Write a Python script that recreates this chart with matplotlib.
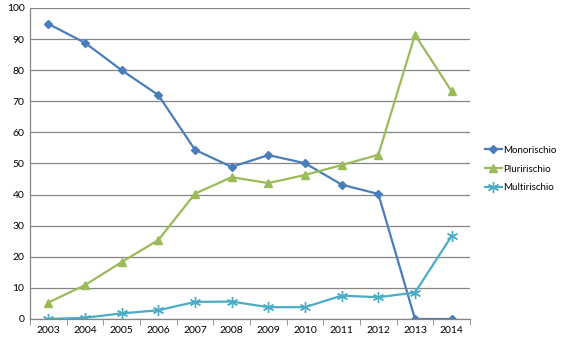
import matplotlib
matplotlib.use('Agg')
import matplotlib.pyplot as plt
import numpy as np

plt.rcParams['font.family'] = ['Lato', 'DejaVu Sans']

anni = ['2003', '2004', '2005', '2006', '2007', '2008', '2009', '2010', '2011', '2012', '2013', '2014']
monorischio = [94.9, 88.8, 80.0, 72.0, 54.4, 48.9, 52.7, 50.1, 43.2, 40.2, 0.0, 0.0]
pluririschio = [5.3, 10.9, 18.3, 25.4, 40.3, 45.6, 43.7, 46.3, 49.5, 52.8, 91.4, 73.2]
multirischio = [0.0, 0.4, 1.8, 2.8, 5.5, 5.6, 3.8, 3.8, 7.5, 7.0, 8.5, 26.7]

mono_color = '#4A7EBB'
pluri_color = '#9BBB59'
multi_color = '#4BACC6'
grid_color = '#868686'

x_pos = np.arange(len(anni))

fig = plt.figure(figsize=(5.67, 3.45), dpi=100)
ax = fig.add_axes([30/567, 1-319/345, 440/567, 311/345])

ax.plot(x_pos, monorischio, color=mono_color, lw=1.6, marker='D', markersize=4, label='Monorischio')
ax.plot(x_pos, pluririschio, color=pluri_color, lw=1.6, marker='^', markersize=5.5, label='Pluririschio')
ax.plot(x_pos, multirischio, color=multi_color, lw=1.6, marker=(6, 2, 0), markersize=8, mew=1.0, label='Multirischio')

ax.set_xlim(-0.5, len(anni) - 0.5)
ax.set_ylim(0, 100)
ax.set_yticks(np.arange(0, 101, 10))
ax.set_xticks(x_pos)
ax.set_xticklabels(anni)
# tick marks sit between the categories
ax.set_xticks(np.arange(-0.5, len(anni), 1), minor=True)
ax.tick_params(axis='x', which='major', length=0, labelsize=7.5, pad=5)
ax.tick_params(axis='x', which='minor', length=4, color=grid_color, direction='out')
ax.tick_params(axis='y', length=0, labelsize=7.5, pad=4)

ax.grid(axis='y', color=grid_color, lw=0.9)
ax.set_axisbelow(True)
for s in ['top', 'right']:
    ax.spines[s].set_visible(False)
ax.spines['left'].set_color(grid_color)
ax.spines['bottom'].set_color(grid_color)
ax.spines['left'].set_linewidth(0.9)
ax.spines['bottom'].set_linewidth(0.9)

fig.legend(loc='center left', bbox_to_anchor=(485/567, 0.51), frameon=False, fontsize=7,
           handlelength=1.7, handletextpad=0.15, labelspacing=1.0,
           borderpad=0, borderaxespad=0)

plt.savefig('out.png', dpi=100)
plt.close()
